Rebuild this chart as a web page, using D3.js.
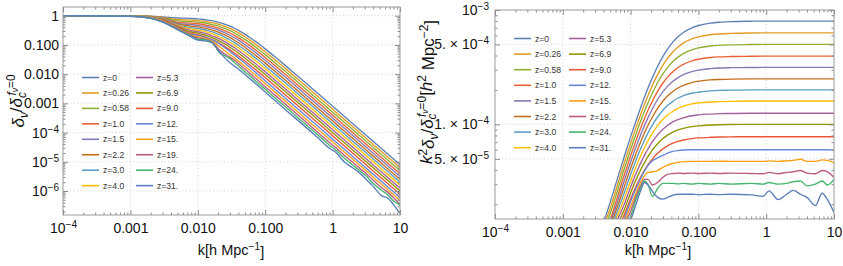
<!DOCTYPE html>
<html><head><meta charset="utf-8">
<script src="https://cdn.jsdelivr.net/npm/d3@7"></script>
<style>
body{margin:0;background:#fff}
svg{display:block}
text{font-family:"Liberation Sans",Arial,Helvetica,sans-serif}
</style>
</head><body>
<svg id="chart" width="843" height="266"></svg>
<script>
// ---------------- data ----------------
const zLabels = ["z=0","z=0.26","z=0.58","z=1.0","z=1.5","z=2.2","z=3.0","z=4.0",
                 "z=5.3","z=6.9","z=9.0","z=12.","z=15.","z=19.","z=24.","z=31."];
const lineColors = ["#5E81B5","#E19C24","#8FB032","#EB6235","#8778B3","#C56E1A","#5D9EC7","#FFBF00",
                    "#A5609D","#929600","#E95536","#6685D9","#F89F13","#BC5B80","#47B66D","#5A7FBA"];
// wavenumbers k [h/Mpc]
const kGrid = [1e-4,1e-3,0.002,0.003,0.005,0.008,0.01,0.012,0.014,0.016,0.018,0.021,0.025,0.03,0.035,0.042,0.05,0.06,
               0.08,0.1,0.15,0.2,0.3,0.6,0.9,1.1,1.5,2,2.5,3.2,4,5.3,6.7,8,10];
// k^2 * delta_nu/delta_c^(f_nu=0) in units of 1e-5 h^2 Mpc^-2, one row per redshift
const k2deltaE5 = [
 [0.001,0.1,0.384,0.81,2.09,5.15,7.77,10.7,13.9,17.3,20.7,25.7,32.1,39.3,45.5,52.4,58.3,63.6,69.8,73.2,76.8,78.2,79.2,79.8,80,80,80,80,80,80,80,80,80,80,80],
 [0.001,0.0997,0.38,0.792,1.85,4.54,6.82,9.37,12.1,14.9,17.8,22.0,27.2,32.9,37.7,42.9,47.4,51.3,55.8,58.2,60.8,61.7,62.4,62.9,63,63,63,63,63,63,63,63,63,63,63],
 [0.001,0.0994,0.376,0.774,1.66,4.03,6.03,8.25,10.6,13.0,15.4,18.8,23.1,27.6,31.3,35.4,38.7,41.6,44.9,46.6,48.4,49.1,49.6,49.9,50,50,50,50,50,50,50,50,50,50,50],
 [0.001,0.0991,0.372,0.756,1.47,3.56,5.30,7.21,9.2,11.2,13.2,16.0,19.4,23.0,25.9,28.9,31.4,33.5,35.9,37.1,38.4,38.9,39.2,39.4,39.5,39.5,39.5,39.5,39.5,39.5,39.5,39.5,39.5,39.5,39.5],
 [0.001,0.0988,0.368,0.738,1.37,3.17,4.69,6.34,8.05,9.75,11.4,13.7,16.5,19.3,21.5,23.8,25.6,27.2,28.9,29.8,30.7,31.1,31.3,31.4,31.5,31.5,31.5,31.5,31.5,31.5,31.5,31.5,31.5,31.5,31.5],
 [0.001,0.0985,0.364,0.72,1.29,2.81,4.13,5.54,6.98,8.4,9.76,11.6,13.8,16.0,17.7,19.4,20.8,21.9,23.2,23.8,24.5,24.7,24.9,25,25,25,25,25,25,25,25,25,25,25,25],
 [0.001,0.0982,0.36,0.702,1.22,2.49,3.64,4.85,6.08,7.26,8.38,9.91,11.6,13.3,14.6,15.9,17.0,17.8,18.7,19.1,19.6,19.8,19.9,20,20,20,20,20,20,20,20,20,20,20,20],
 [0.001,0.0979,0.356,0.684,1.157,2.21,3.2,4.24,5.26,6.24,7.16,8.39,9.76,11.1,12.1,13.0,13.8,14.4,15.1,15.4,15.7,15.8,15.9,16,16,16,16,16,16,16,16,16,16,16,16],
 [0.001,0.0976,0.352,0.666,1.10,1.98,2.83,3.71,4.56,5.36,6.09,7.05,8.09,9.07,9.78,10.5,11.0,11.4,11.9,12.1,12.3,12.4,12.45,12.5,12.5,12.5,12.5,12.5,12.5,12.5,12.5,12.5,12.5,12.5,12.5],
 [0.001,0.0973,0.348,0.648,1.05,1.77,2.52,3.27,3.98,4.63,5.22,5.98,6.78,7.52,8.05,8.56,8.94,9.24,9.56,9.71,9.87,9.93,9.97,10,10,10,10,10,10,10,10,10,10,10,10],
 [0.001,0.097,0.344,0.63,1.01,1.60,2.24,2.86,3.44,3.96,4.42,4.99,5.58,6.11,6.48,6.84,7.09,7.30,7.51,7.61,7.71,7.75,7.78,7.8,7.8,7.8,7.8,7.8,7.8,7.8,7.8,7.8,7.8,7.8,7.8],
 [0.001,0.0967,0.34,0.612,0.965,1.47,2.12,2.75,3.35,3.9,4.35,4.8,5.1,5.35,5.6,5.8,5.9,5.97,6.0,6.0,6.0,6.0,6.0,6.0,6.0,6.0,6.0,6.0,6.0,6.0,6.0,6.0,6.0,6.0,5.95],
 [0.001,0.0964,0.336,0.594,0.927,1.395,1.91,2.5,3.1,3.55,3.8,3.85,3.95,4.2,4.4,4.55,4.65,4.72,4.75,4.75,4.75,4.77,4.75,4.75,4.75,4.8,4.75,4.8,4.85,4.95,4.75,4.75,4.9,4.85,4.6],
 [0.001,0.0961,0.332,0.576,0.889,1.326,1.74,2.35,2.9,3.3,3.3,2.95,3.1,3.45,3.65,3.72,3.75,3.72,3.75,3.72,3.75,3.72,3.75,3.72,3.7,3.8,3.7,3.8,3.85,3.95,3.75,3.7,3.95,3.85,3.45],
 [0.001,0.0958,0.328,0.558,0.854,1.264,1.565,2.2,2.75,3.2,3.0,2.35,2.75,3.05,3.05,3.05,3.02,3.05,3.0,3.05,3.0,3.05,3.0,3.05,3.0,3.1,3.0,3.05,3.15,3.2,2.9,3.0,3.2,2.95,3.3],
 [0.001,0.0955,0.324,0.54,0.825,1.21,1.45,2.0,2.6,3.1,2.95,2.6,2.3,2.22,2.3,2.4,2.45,2.45,2.45,2.43,2.45,2.43,2.45,2.42,2.35,2.62,2.2,2.45,2.65,2.45,2.3,1.95,2.5,2.2,1.7]
];
const xTickValues = [1e-4,1e-3,1e-2,1e-1,1,10];
const xTickLabels = ["10^-4","0.001","0.010","0.100","1","10"];
const leftYTickValues = [1,0.1,0.01,0.001,1e-4,1e-5,1e-6];
const leftYTickLabels = ["1","0.100","0.010","0.001","10^-4","10^-5","10^-6"];
const rightYTickValues = [1e-3,5e-4,1e-4,5e-5];
const rightYTickLabels = ["10^-3","5. \u00d7 10^-4","1. \u00d7 10^-4","5. \u00d7 10^-5"];

// ---------------- helpers ----------------
const svg = d3.select("#chart");
const FRAME = "#9a9a9a";
const TICKC = "#8a8a8a";

function minorTicks(domain, skip) {
  const out = [];
  const lo = Math.floor(Math.log10(domain[0])), hi = Math.ceil(Math.log10(domain[1]));
  for (let e = lo; e <= hi; e++) for (let m = 2; m <= 9; m++) {
    const v = m * Math.pow(10, e);
    if (v > domain[0] && v < domain[1] && !(skip || []).some(s => Math.abs(s - v) / v < 1e-6)) out.push(v);
  }
  return out;
}
function supLabel(sel, label) {
  sel.text(null);
  const m = label.match(/^(.*)\^(.*)$/);
  if (m) {
    sel.append("tspan").text(m[1]);
    sel.append("tspan").attr("dy", "-0.5em").attr("font-size", "0.72em").text(m[2].replace("-", "\u2212"));
  } else sel.text(label);
}

function panel(cfg) {
  const x = d3.scaleLog().domain([1e-4, 10]).range([cfg.x0, cfg.x1]);
  const y = d3.scaleLog().domain(cfg.yDomain).range([cfg.y1, cfg.y0]);
  const g = svg.append("g");

  // grid
  const gx = xTickValues.filter(v => v > 1e-4 && v < 10);
  g.selectAll(null).data(gx).join("line")
    .attr("x1", d => x(d)).attr("x2", d => x(d)).attr("y1", cfg.y0).attr("y2", cfg.y1)
    .attr("stroke", "#c8c8c8").attr("stroke-width", 0.8).attr("stroke-dasharray", "1,2.5");
  g.selectAll(null).data(cfg.gridY).join("line")
    .attr("y1", d => y(d)).attr("y2", d => y(d)).attr("x1", cfg.x0).attr("x2", cfg.x1)
    .attr("stroke", "#c8c8c8").attr("stroke-width", 0.8).attr("stroke-dasharray", "1,2.5");

  // curves
  const clipId = "clip" + cfg.id;
  svg.append("clipPath").attr("id", clipId).append("rect")
    .attr("x", cfg.x0).attr("y", cfg.y0).attr("width", cfg.x1 - cfg.x0).attr("height", cfg.y1 - cfg.y0);
  const line = d3.line().x(d => x(d.k)).y(d => y(d.v)).curve(d3.curveMonotoneX);
  const cg = g.append("g").attr("clip-path", `url(#${clipId})`);
  k2deltaE5.forEach((row, i) => {
    const pts = kGrid.map((k, j) => ({k, v: cfg.value(k, row[j] * 1e-5)}));
    cg.append("path").datum(pts).attr("d", line).attr("fill", "none")
      .attr("stroke", lineColors[i]).attr("stroke-width", 1.35).attr("stroke-linejoin", "round");
  });

  // axes (frame ticks pointing inward)
  const style = a => { a.select(".domain").remove(); a.selectAll(".tick line").attr("stroke", TICKC); };
  const xb = g.append("g").attr("transform", `translate(0,${cfg.y1})`)
    .call(d3.axisBottom(x).tickValues(xTickValues).tickSize(-5).tickPadding(8).tickFormat((d, i) => xTickLabels[i]));
  style(xb);
  xb.selectAll("text").attr("font-size", 14).attr("fill", "#111").each(function(d, i) { supLabel(d3.select(this), xTickLabels[i]); });
  g.append("g").attr("transform", `translate(0,${cfg.y1})`)
    .call(d3.axisBottom(x).tickValues(minorTicks([1e-4, 10])).tickSize(-2.5).tickFormat("")).call(style);
  g.append("g").attr("transform", `translate(0,${cfg.y0})`)
    .call(d3.axisTop(x).tickValues(xTickValues).tickSize(-5).tickFormat("")).call(style);
  g.append("g").attr("transform", `translate(0,${cfg.y0})`)
    .call(d3.axisTop(x).tickValues(minorTicks([1e-4, 10])).tickSize(-2.5).tickFormat("")).call(style);

  const yl = g.append("g").attr("transform", `translate(${cfg.x0},0)`)
    .call(d3.axisLeft(y).tickValues(cfg.yTicks).tickSize(-5).tickPadding(cfg.yPad).tickFormat((d, i) => cfg.yLabels[i]));
  style(yl);
  yl.selectAll("text").attr("font-size", 14).attr("fill", "#111").each(function(d, i) { supLabel(d3.select(this), cfg.yLabels[i]); });
  const ym = minorTicks(cfg.yDomain, cfg.yTicks);
  g.append("g").attr("transform", `translate(${cfg.x0},0)`)
    .call(d3.axisLeft(y).tickValues(ym).tickSize(-2.5).tickFormat("")).call(style);
  g.append("g").attr("transform", `translate(${cfg.x1},0)`)
    .call(d3.axisRight(y).tickValues(cfg.yTicks).tickSize(-5).tickFormat("")).call(style);
  g.append("g").attr("transform", `translate(${cfg.x1},0)`)
    .call(d3.axisRight(y).tickValues(ym).tickSize(-2.5).tickFormat("")).call(style);

  // frame
  g.append("rect").attr("x", cfg.x0).attr("y", cfg.y0).attr("width", cfg.x1 - cfg.x0).attr("height", cfg.y1 - cfg.y0)
    .attr("fill", "none").attr("stroke", FRAME).attr("stroke-width", 1);

  // x title
  const xt = g.append("text").attr("x", cfg.xTitleX).attr("y", 255).attr("text-anchor", "middle")
    .attr("font-size", 14.5).attr("fill", "#111");
  xt.append("tspan").text("k[h Mpc");
  xt.append("tspan").attr("dy", "-0.5em").attr("font-size", "0.7em").text("\u22121");
  xt.append("tspan").attr("dy", "0.5em").text("]");

  // legend
  zLabels.forEach((lab, i) => {
    const col = Math.floor(i / 8), row = i % 8;
    const lx = cfg.legX[col], ly = cfg.legY0 + row * cfg.legDy;
    g.append("line").attr("x1", lx).attr("x2", lx + 17).attr("y1", ly).attr("y2", ly)
      .attr("stroke", lineColors[i]).attr("stroke-width", 1.6);
    g.append("text").attr("x", lx + 21).attr("y", ly + 3).attr("font-size", 8.6).attr("fill", "#333").text(lab);
  });
  return g;
}

// left: delta_nu / delta_c
panel({id: "L", x0: 63, x1: 400, y0: 7, y1: 215, yDomain: [1.51e-7, 1.985],
  value: (k, v) => v / (k * k),
  yTicks: leftYTickValues, yLabels: leftYTickLabels, yPad: 4,
  gridY: [1, 0.1, 0.01, 0.001, 1e-4, 1e-5, 1e-6],
  xTitleX: 231, legX: [82, 136], legY0: 77.5, legDy: 15.45});

// right: k^2 delta_nu / delta_c
panel({id: "R", x0: 495, x1: 834, y0: 10, y1: 219, yDomain: [1.488e-5, 1e-3],
  value: (k, v) => v,
  yTicks: rightYTickValues, yLabels: rightYTickLabels, yPad: 6,
  gridY: [5e-4, 1e-4, 5e-5],
  xTitleX: 658, legX: [514, 569], legY0: 38.5, legDy: 15.6});

// y titles
function yTitle(x, y, withK2, size) {
  const t = svg.append("text").attr("transform", `translate(${x},${y}) rotate(-90)`)
    .attr("text-anchor", "middle").attr("font-size", size).attr("fill", "#111");
  if (withK2) {
    t.append("tspan").attr("font-style", "italic").text("k");
    t.append("tspan").attr("dy", "-0.45em").attr("font-size", "0.7em").text("2");
    t.append("tspan").attr("dy", "0.45em").attr("font-style", "italic").text("\u03b4");
  } else {
    t.append("tspan").attr("font-style", "italic").text("\u03b4");
  }
  t.append("tspan").attr("dy", "0.3em").attr("font-size", "0.7em").attr("font-style", "italic").text("\u03bd");
  t.append("tspan").attr("dy", "-0.3em").text("/");
  t.append("tspan").attr("font-style", "italic").text("\u03b4");
  t.append("tspan").attr("dy", "0.3em").attr("font-size", "0.7em").attr("font-style", "italic").text("c");
  t.append("tspan").attr("dx", "-0.3em").attr("dy", "-0.85em").attr("font-size", "0.7em").attr("font-style", "italic").text("f");
  t.append("tspan").attr("dy", "0.2em").attr("font-size", "0.5em").attr("font-style", "italic").text("\u03bd");
  t.append("tspan").attr("dy", "-0.2em").attr("font-size", "0.7em").text("=0");
  if (withK2) {
    t.append("tspan").attr("dy", "0.35em").text("[");
    t.append("tspan").attr("font-style", "italic").text("h");
    t.append("tspan").attr("dy", "-0.45em").attr("font-size", "0.7em").text("2");
    t.append("tspan").attr("dy", "0.45em").text(" Mpc");
    t.append("tspan").attr("dy", "-0.45em").attr("font-size", "0.7em").text("\u22122");
    t.append("tspan").attr("dy", "0.45em").text("]");
  }
}
yTitle(24, 101, false, 17);
yTitle(432, 92, true, 17);
</script>
</body></html>
